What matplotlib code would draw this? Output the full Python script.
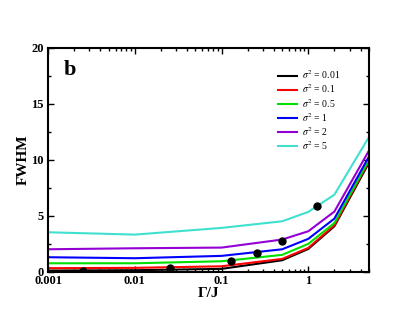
import matplotlib
matplotlib.use("Agg")
import matplotlib.pyplot as plt
import numpy as np
from matplotlib.ticker import FixedLocator, LogLocator, NullFormatter

plt.rcParams["font.family"] = ["Liberation Serif", "DejaVu Serif"]
plt.rcParams["mathtext.fontset"] = "stix"

gamma = [0.001, 0.01, 0.1, 0.5, 1, 2, 5]
labels = ["0.01", "0.1", "0.5", "1", "2", "5"]
colors = ["#000000", "#ff0000", "#00e000", "#0000ff", "#9400d3", "#40e0d0"]
fwhm = [
    [0.12, 0.15, 0.27, 1.04, 2.05, 4.08, 9.75],
    [0.33, 0.36, 0.50, 1.16, 2.14, 4.17, 9.90],
    [0.77, 0.77, 0.95, 1.52, 2.50, 4.37, 10.0],
    [1.31, 1.22, 1.43, 2.02, 2.95, 4.76, 10.3],
    [2.02, 2.11, 2.17, 2.89, 3.63, 5.39, 10.83],
    [3.54, 3.33, 3.93, 4.52, 5.36, 6.90, 12.05],
]
dot_x = [0.00254, 0.0253, 0.127, 0.254, 0.5, 1.27]
dot_y = [0.06, 0.36, 0.98, 1.73, 2.77, 5.89]

fig = plt.figure(figsize=(4.15, 3.21), dpi=100)
ax = fig.add_axes([0.1157, 0.153, 0.7733, 0.6975])

for lab, col, ys in zip(labels, colors, fwhm):
    ax.plot(gamma, ys, color=col, lw=1.5, label=r"$\sigma^2$ = " + lab)
ax.plot(dot_x, dot_y, "o", color="black", ms=5, zorder=5)

ax.set_xscale("log")
ax.set_xlim(0.001, 5)
ax.set_ylim(0, 20)
ax.set_xticks([0.001, 0.01, 0.1, 1])
ax.set_xticklabels(["0.001", "0.01", "0.1", "1"])
ax.xaxis.set_minor_locator(LogLocator(base=10, subs=np.arange(2, 10)))
ax.xaxis.set_minor_formatter(NullFormatter())
ax.set_yticks([0, 5, 10, 15, 20])
ax.yaxis.set_minor_locator(FixedLocator([2.5, 7.5, 12.5, 17.5]))
ax.tick_params(which="both", direction="in", top=True, right=True, labelsize=9, pad=2)
ax.tick_params(axis="y", pad=3)
ax.tick_params(which="major", length=4, width=1)
ax.tick_params(which="minor", length=2.5, width=1)
for t in ax.get_xticklabels() + ax.get_yticklabels():
    t.set_fontweight("bold")
for s in ax.spines.values():
    s.set_linewidth(1.5)

ax.set_xlabel("Γ/J", fontsize=11, fontweight="bold", labelpad=0)
ax.set_ylabel("FWHM", fontsize=11, fontweight="bold", labelpad=1)
ax.text(0.05, 0.9, "b", transform=ax.transAxes, fontsize=16, fontweight="bold",
        va="center", ha="left")

leg = ax.legend(loc="upper left", bbox_to_anchor=(0.70, 0.93), frameon=False,
                fontsize=7, handlelength=2.0, handletextpad=0.5, labelspacing=0.12,
                borderpad=0)

fig.savefig("out.png", dpi=100)
